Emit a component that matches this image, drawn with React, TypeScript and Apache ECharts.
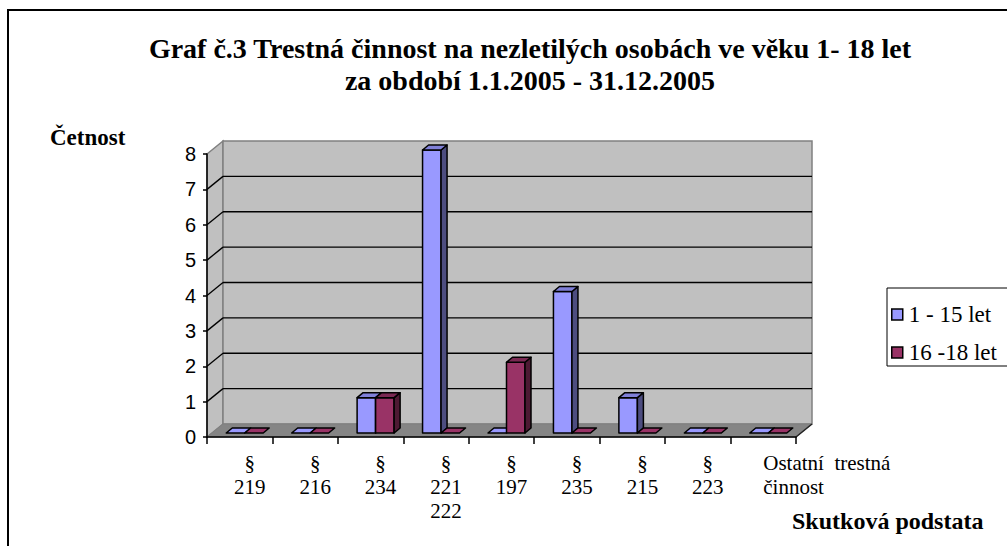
import React, { useEffect, useRef } from "react";
import * as echarts from "echarts";

const categories = [
  "§\n219",
  "§\n216",
  "§\n234",
  "§\n221\n222",
  "§\n197",
  "§\n235",
  "§\n215",
  "§\n223",
  "Ostatní  trestná\nčinnost",
];
const series1Name = "1 - 15 let";
const series2Name = "16 -18 let";
const series1Values = [0, 0, 1, 8, 0, 4, 1, 0, 0];
const series2Values = [0, 0, 1, 0, 2, 0, 0, 0, 0];
const yTicks = [0, 1, 2, 3, 4, 5, 6, 7, 8];
const titleLines = [
  "Graf č.3 Trestná činnost na nezletilých osobách ve věku 1- 18 let",
  "za období 1.1.2005 - 31.12.2005",
];
const yAxisTitle = "Četnost";
const xAxisTitle = "Skutková podstata";

const DX = 16;
const DY = -13;
const BAR_W = 18.5;
const BAR_DX = 6;
const BAR_DY = -5;
const BAR_OFF_X = 5;
const BAR_OFF_Y = -4;

function makeBarRender(colors: { front: string; side: string; top: string }, first: boolean) {
  return (params: any, api: any) => {
    const cat = api.value(0);
    const v = api.value(1);
    const p0 = api.coord([cat, 0]);
    const p1 = api.coord([cat, v]);
    const xl = first ? p0[0] + BAR_OFF_X - BAR_W : p0[0] + BAR_OFF_X;
    const xr = xl + BAR_W;
    const yb = p0[1] + BAR_OFF_Y;
    const yt = p1[1] + BAR_OFF_Y;
    const stroke = { stroke: "#000", lineWidth: 1.5, lineJoin: "round" };
    const children: any[] = [];
    if (v > 0) {
      children.push({
        type: "rect",
        shape: { x: xl, y: yt, width: BAR_W, height: yb - yt },
        style: { fill: colors.front, ...stroke },
      });
      children.push({
        type: "polygon",
        shape: {
          points: [
            [xr, yb],
            [xr + BAR_DX, yb + BAR_DY],
            [xr + BAR_DX, yt + BAR_DY],
            [xr, yt],
          ],
        },
        style: { fill: colors.side, ...stroke },
      });
    }
    children.push({
      type: "polygon",
      shape: {
        points: [
          [xl, yt],
          [xl + BAR_DX, yt + BAR_DY],
          [xr + BAR_DX, yt + BAR_DY],
          [xr, yt],
        ],
      },
      style: { fill: v > 0 ? colors.top : colors.front, ...stroke },
    });
    return { type: "group", children };
  };
}

function wallsRender(params: any, api: any) {
  const cs = params.coordSys;
  const x0 = cs.x;
  const x1 = cs.x + cs.width;
  const yb = api.coord([0, yTicks[0]])[1];
  const yt = api.coord([0, yTicks[yTicks.length - 1]])[1];
  const children: any[] = [];
  children.push({
    type: "polygon",
    shape: { points: [[x0, yt], [x0 + DX, yt + DY], [x0 + DX, yb + DY], [x0, yb]] },
    style: { fill: "#c0c0c0", stroke: "#808080", lineWidth: 1.5 },
  });
  children.push({
    type: "rect",
    shape: { x: x0 + DX, y: yt + DY, width: x1 - x0, height: yb - yt },
    style: { fill: "#c0c0c0", stroke: "#808080", lineWidth: 1.5 },
  });
  children.push({
    type: "polygon",
    shape: { points: [[x0, yb], [x0 + DX, yb + DY], [x1 + DX, yb + DY], [x1, yb]] },
    style: { fill: "#858585", stroke: "#808080", lineWidth: 1 },
  });
  children.push({
    type: "line",
    shape: { x1: x1 + DX, y1: yb + DY, x2: x1, y2: yb },
    style: { stroke: "#222", lineWidth: 1.5 },
  });
  for (let i = 1; i < yTicks.length - 1; i++) {
    const y = api.coord([0, yTicks[i]])[1];
    children.push({
      type: "line",
      shape: { x1: x0 + DX, y1: y + DY, x2: x1 + DX, y2: y + DY },
      style: { stroke: "#000", lineWidth: 1.3 },
    });
    children.push({
      type: "line",
      shape: { x1: x0, y1: y, x2: x0 + DX, y2: y + DY },
      style: { stroke: "#000", lineWidth: 1.3 },
    });
  }
  return { type: "group", children };
}

export default function App() {
  const ref = useRef<HTMLDivElement>(null);
  useEffect(() => {
    if (!ref.current) return;
    const chart = echarts.init(ref.current, null, { renderer: "svg" });
    const serif = "'Liberation Serif', 'Times New Roman', serif";
    const sans = "'Liberation Sans', Arial, sans-serif";
    chart.setOption({
      animation: false,
      backgroundColor: "#fff",
      title: {
        text: titleLines.join("\n"),
        left: 525,
        top: 27,
        textAlign: "center",
        textStyle: {
          fontFamily: serif,
          fontWeight: "bold",
          fontSize: 28,
          lineHeight: 32,
          color: "#000",
        },
      },
      legend: {
        orient: "vertical",
        left: 887,
        top: 288,
        padding: [15, 40, 2, 4],
        itemGap: 15,
        itemWidth: 11,
        itemHeight: 11,
        icon: "rect",
        borderColor: "#000",
        borderWidth: 1,
        itemStyle: { borderColor: "#000", borderWidth: 1.5 },
        textStyle: { fontFamily: serif, fontSize: 23, color: "#000", padding: [0, 0, 0, 1] },
        data: [series1Name, series2Name],
      },
      grid: { left: 207, top: 154, width: 589, height: 283, containLabel: false },
      xAxis: {
        type: "category",
        data: categories.map((c, i) =>
          i === categories.length - 1
            ? { value: c, textStyle: { align: "left", padding: [0, 0, 0, 0] } }
            : c
        ),
        z: 5,
        axisLine: { show: true, lineStyle: { color: "#000", width: 1.5 } },
        axisTick: { show: true, length: 7, lineStyle: { color: "#000", width: 1.5 } },
        axisLabel: {
          interval: 0,
          margin: 14,
          fontFamily: serif,
          fontSize: 21,
          lineHeight: 24,
          color: "#000",
          padding: [0, 0, 0, 20],
        },
        splitLine: { show: false },
      },
      yAxis: {
        type: "value",
        min: yTicks[0],
        max: yTicks[yTicks.length - 1],
        interval: 1,
        z: 5,
        axisLine: { show: true, lineStyle: { color: "#000", width: 1.5 } },
        axisTick: { show: true, length: 4, lineStyle: { color: "#000", width: 1.5 } },
        axisLabel: { margin: 11, fontFamily: sans, fontSize: 20, color: "#000" },
        splitLine: { show: false },
      },
      graphic: [
        {
          type: "rect",
          shape: { x: 8, y: 10, width: 1100, height: 600 },
          style: { fill: "none", stroke: "#000", lineWidth: 2 },
          z: 100,
        },
        {
          type: "text",
          x: 50,
          y: 137,
          style: {
            text: yAxisTitle,
            fontFamily: serif,
            fontWeight: "bold",
            fontSize: 23,
            fill: "#000",
            verticalAlign: "middle",
          },
        },
        {
          type: "text",
          x: 792,
          y: 521,
          style: {
            text: xAxisTitle,
            fontFamily: serif,
            fontWeight: "bold",
            fontSize: 24,
            fill: "#000",
            verticalAlign: "middle",
          },
        },
      ],
      series: [
        {
          type: "custom",
          name: "walls",
          z: 1,
          silent: true,
          renderItem: wallsRender,
          data: [[0, 0]],
          encode: { x: 0, y: 1 },
        },
        {
          type: "custom",
          name: series1Name,
          z: 3,
          itemStyle: { color: "#9999ff", borderColor: "#000", borderWidth: 1.5 },
          renderItem: makeBarRender({ front: "#9999ff", side: "#4d4d80", top: "#8080d8" }, true),
          data: series1Values.map((v, i) => [i, v]),
          encode: { x: 0, y: 1 },
        },
        {
          type: "custom",
          name: series2Name,
          z: 3,
          itemStyle: { color: "#993366", borderColor: "#000", borderWidth: 1.5 },
          renderItem: makeBarRender({ front: "#993366", side: "#4d1a33", top: "#7a2952" }, false),
          data: series2Values.map((v, i) => [i, v]),
          encode: { x: 0, y: 1 },
        },
      ],
    });
    return () => chart.dispose();
  }, []);
  return (
    <div
      ref={ref}
      style={{ position: "fixed", left: 0, top: 0, width: 1007, height: 546 }}
    />
  );
}
